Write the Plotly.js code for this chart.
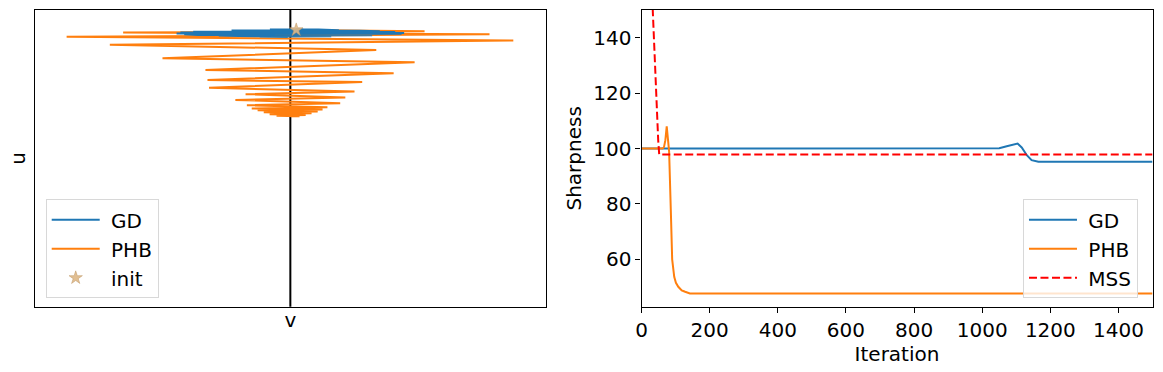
<!DOCTYPE html>
<html>
<head>
<meta charset="utf-8">
<script src="https://cdn.plot.ly/plotly-3.0.1.min.js"></script>
<style>
  body { margin: 0; padding: 0; background: white; }
  #graph { width: 1163px; height: 372px; }
</style>
</head>
<body>
<div id="graph"></div>
<script>
// left panel: trajectories in the (v, u) plane, units
var init_v = [0.023];
var init_u = [9.33];

var gd_v = [0.02, -0.03, 0.05, -0.08, 0.11, -0.15, 0.19, -0.23, 0.27, -0.31, 0.35, -0.38, 0.41, -0.43, 0.445,
            -0.445, 0.435, -0.415, 0.39, -0.36, 0.32, -0.28, 0.24, -0.20, 0.16, -0.12, 0.08, -0.05, 0.03, -0.01];
var gd_u = [9.36, 9.355, 9.35, 9.345, 9.34, 9.33, 9.32, 9.31, 9.30, 9.29, 9.28, 9.27, 9.255, 9.24, 9.225,
            9.21, 9.195, 9.18, 9.17, 9.16, 9.15, 9.14, 9.13, 9.12, 9.115, 9.11, 9.105, 9.10, 9.095, 9.09];

var phb_v = [0.023, 0.525, -0.654, 0.779, -0.875, 0.872, -0.706, 0.336, -0.5, 0.486, -0.332, 0.404, -0.324, 0.281,
             -0.318, 0.251, -0.175, 0.215, -0.215, 0.195, -0.170, 0.145, -0.151, 0.126, -0.128, 0.107, -0.104,
             0.083, -0.081, 0.060, -0.054, 0.036, -0.022, 0.001];
var phb_u = [9.33, 9.28, 9.24, 9.18, 9.10, 8.97, 8.83, 8.65, 8.37, 8.24, 7.98, 7.87, 7.64, 7.57,
             7.38, 7.25, 7.16, 7.05, 6.97, 6.86, 6.79, 6.72, 6.68, 6.65, 6.62, 6.58, 6.55,
             6.52, 6.49, 6.46, 6.44, 6.42, 6.41, 6.41];

// right panel: sharpness vs iteration
var gd_it = [0, 1050, 1072, 1091, 1104, 1116, 1131, 1145, 1165, 1500];
var gd_sharp = [100, 100.1, 100.8, 101.4, 101.8, 100.4, 97.6, 95.8, 95.2, 95.2];

var phb_it = [0, 62, 66, 70, 74, 76, 78, 81, 86, 90, 96, 101, 108, 118, 128, 142, 1500];
var phb_sharp = [100, 100, 100.5, 103, 108, 106, 102, 99, 77.8, 60, 53.7, 51.5, 50.1, 48.8, 48.3, 47.7, 47.7];

var mss_it = [0, 20, 33, 40, 45, 49, 52, 1500];
var mss_sharp = [300, 200, 150, 127, 113, 103, 97.8, 97.8];

var xticks = [0, 200, 400, 600, 800, 1000, 1200, 1400];
var yticks = [60, 80, 100, 120, 140];

var font = {family: 'DejaVu Sans', size: 20, color: 'black'};
var gap = '\u00a0'; // small gap between legend line and label

var traces = [
	{x: phb_v, y: phb_u, xaxis: 'x', yaxis: 'y', mode: 'lines', name: gap + 'PHB', legend: 'legend',
	 legendrank: 2, line: {color: '#ff7f0e', width: 2}},
	{x: gd_v, y: gd_u, xaxis: 'x', yaxis: 'y', mode: 'lines', name: gap + 'GD', legend: 'legend',
	 legendrank: 1, line: {color: '#1f77b4', width: 2}},
	{x: init_v, y: init_u, xaxis: 'x', yaxis: 'y', mode: 'markers', name: gap + 'init', legend: 'legend',
	 legendrank: 3, marker: {symbol: 'star', size: 10, color: 'rgba(222,184,135,0.9)',
	 line: {color: 'rgba(190,150,100,1)', width: 0.5}}},

	{x: gd_it, y: gd_sharp, xaxis: 'x2', yaxis: 'y2', mode: 'lines', name: gap + 'GD', legend: 'legend2',
	 line: {color: '#1f77b4', width: 2}},
	{x: phb_it, y: phb_sharp, xaxis: 'x2', yaxis: 'y2', mode: 'lines', name: gap + 'PHB', legend: 'legend2',
	 line: {color: '#ff7f0e', width: 2}},
	{x: mss_it, y: mss_sharp, xaxis: 'x2', yaxis: 'y2', mode: 'lines', name: gap + 'MSS', legend: 'legend2',
	 line: {color: 'red', width: 2, dash: '8px,3.5px'}}
];

var frame = {showline: true, mirror: true, linecolor: 'black', linewidth: 1.2, showgrid: false, zeroline: false};

var layout = {
	width: 1163,
	height: 372,
	margin: {l: 0, r: 0, t: 0, b: 0},
	paper_bgcolor: 'white',
	plot_bgcolor: 'white',
	font: font,
	xaxis: Object.assign({domain: [0.0298, 0.4695], range: [-1, 1], anchor: 'y', showticklabels: false, ticks: '',
		title: {text: 'v', font: font, standoff: 6}}, frame),
	yaxis: Object.assign({domain: [0.1755, 0.9731], range: [0, 10], anchor: 'x', showticklabels: false, ticks: '',
		title: {text: 'u', font: font, standoff: 2}}, frame),
	xaxis2: Object.assign({domain: [0.5516, 0.991], range: [0, 1500], anchor: 'y2', tickvals: xticks, ticks: 'outside',
		ticklen: 5, tickcolor: 'black', tickfont: font, title: {text: 'Iteration', font: font, standoff: 0}}, frame),
	yaxis2: Object.assign({domain: [0.1755, 0.9731], range: [42.9, 150], anchor: 'x2', tickvals: yticks, ticks: 'outside',
		ticklen: 5, tickcolor: 'black', tickfont: font, title: {text: 'Sharpness', font: font, standoff: 6}}, frame),
	shapes: [
		{type: 'line', xref: 'x', yref: 'y domain', x0: 0, x1: 0, y0: 0, y1: 1,
		 line: {color: 'black', width: 2}, layer: 'below'}
	],
	legend: {x: 0.0393, y: 0.4642, xanchor: 'left', yanchor: 'top', font: font, itemwidth: 48,
		bgcolor: 'rgba(255,255,255,0.8)', bordercolor: '#d8d8d8', borderwidth: 1, traceorder: 'normal'},
	legend2: {x: 0.8796, y: 0.4642, xanchor: 'left', yanchor: 'top', font: font, itemwidth: 48,
		bgcolor: 'rgba(255,255,255,0.8)', bordercolor: '#d8d8d8', borderwidth: 1}
};

Plotly.newPlot('graph', traces, layout, {displayModeBar: false});
</script>
</body>
</html>
